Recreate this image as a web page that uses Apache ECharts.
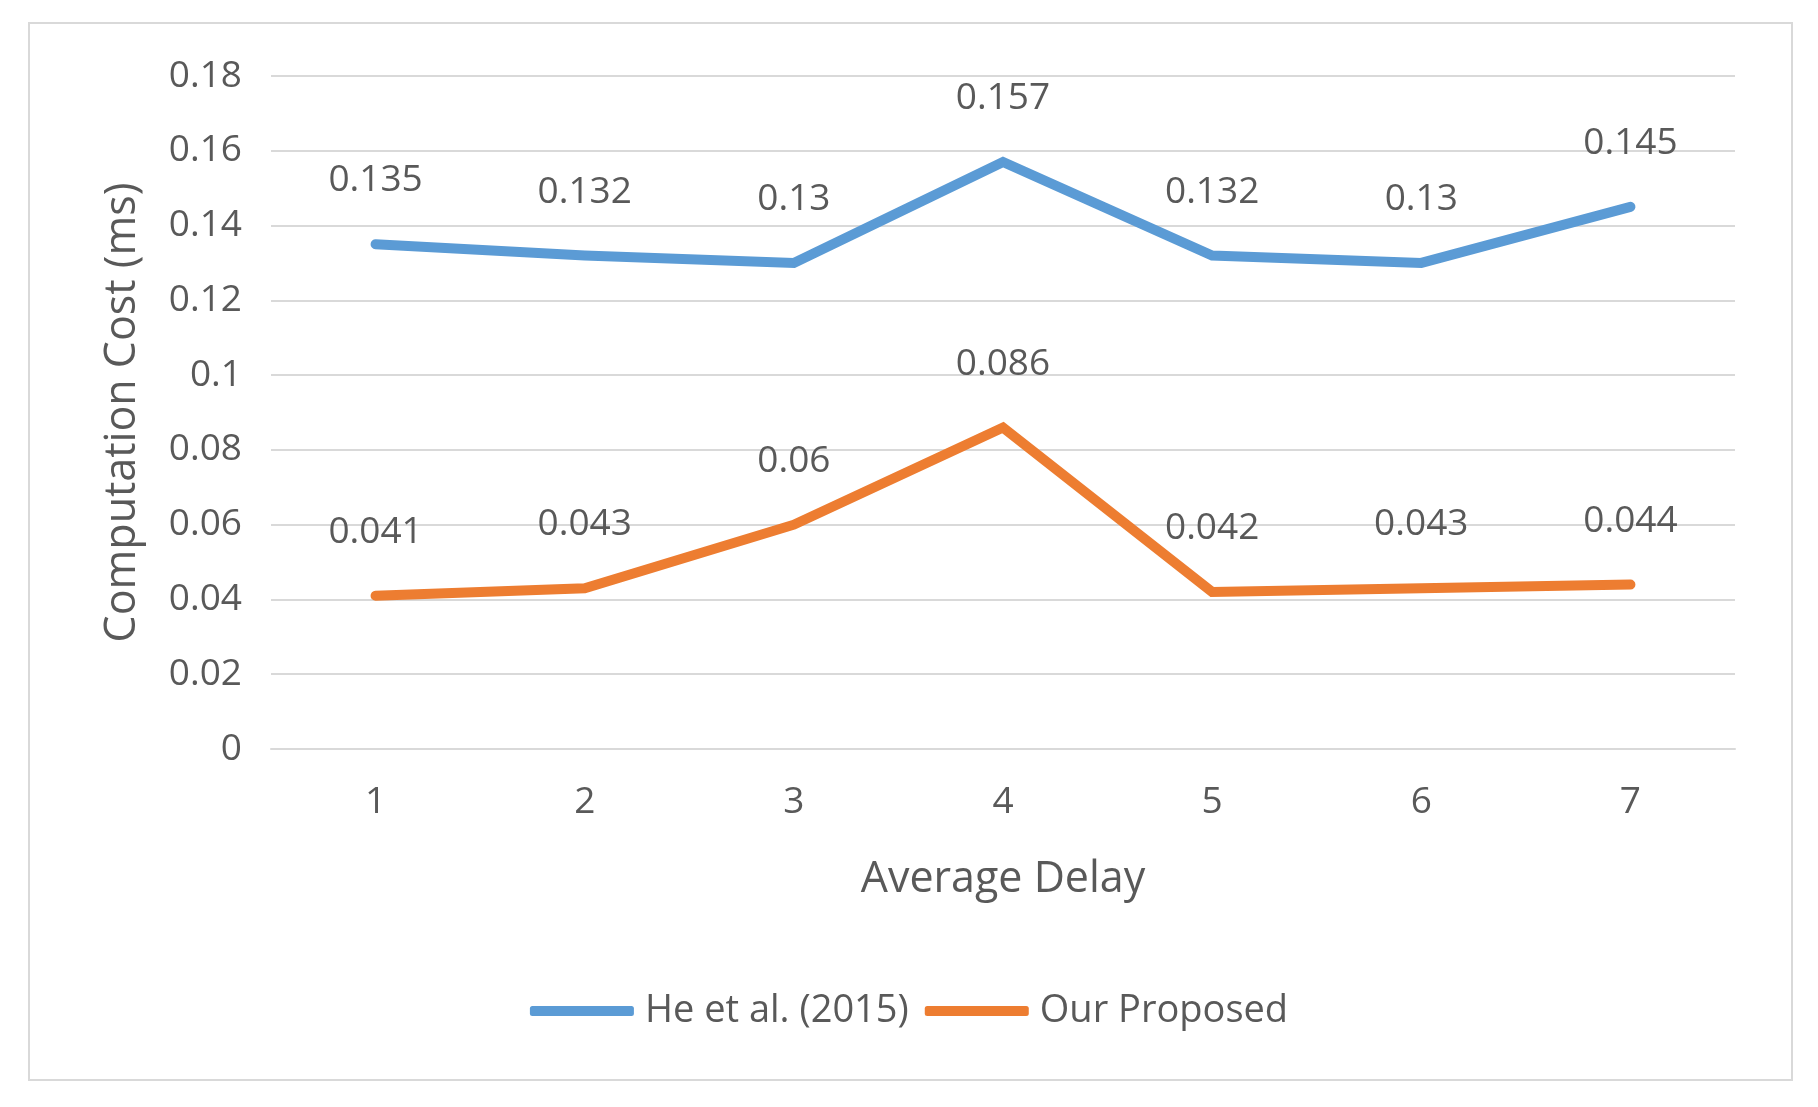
<!DOCTYPE html>
<html>
<head>
<meta charset="utf-8">
<script src="https://cdn.jsdelivr.net/npm/echarts@6/dist/echarts.min.js"></script>
<style>
html,body{margin:0;padding:0;background:#fff;}
#chart{width:1818px;height:1107px;}
</style>
</head>
<body>
<div id="chart"></div>
<script>
const categories = ['1','2','3','4','5','6','7'];
const heEtAl = [0.135, 0.132, 0.13, 0.157, 0.132, 0.13, 0.145];
const ourProposed = [0.041, 0.043, 0.06, 0.086, 0.042, 0.043, 0.044];
const seriesNames = ['He et al. (2015)', 'Our Proposed'];

const FONT = '"Open Sans", "Noto Sans", sans-serif';
const TXT = '#595959';
const chart = echarts.init(document.getElementById('chart'));

function lineSeries(name, data, color) {
  return {
    name: name,
    type: 'line',
    data: data,
    symbol: 'circle',
    symbolSize: 2,
    showSymbol: true,
    itemStyle: { color: color },
    lineStyle: { color: color, width: 10, cap: 'round', join: 'miter' },
    label: {
      show: true,
      position: 'top',
      distance: 44,
      color: TXT,
      fontFamily: FONT,
      fontSize: 37
    },
    emphasis: { disabled: true },
    animation: false
  };
}

chart.setOption({
  backgroundColor: '#ffffff',
  animation: false,
  graphic: [{
    type: 'rect',
    shape: { x: 29, y: 23, width: 1763, height: 1057 },
    style: { fill: 'none', stroke: '#D9D9D9', lineWidth: 2 },
    silent: true
  }],
  grid: { left: 271, right: 83, top: 76, bottom: 358 },
  legend: {
    data: seriesNames,
    bottom: 72,
    left: 'center',
    icon: 'roundRect',
    itemWidth: 104,
    itemHeight: 10,
    itemGap: 16,
    textStyle: { color: TXT, fontFamily: FONT, fontSize: 38, padding: [0, 0, 0, 6] }
  },
  xAxis: {
    type: 'category',
    data: categories,
    boundaryGap: true,
    name: 'Average Delay',
    nameLocation: 'middle',
    nameGap: 109,
    nameTextStyle: { color: TXT, fontFamily: FONT, fontSize: 43 },
    axisLine: { lineStyle: { color: '#D9D9D9', width: 2 } },
    axisTick: { show: false },
    axisLabel: { color: TXT, fontFamily: FONT, fontSize: 37, margin: 35 }
  },
  yAxis: {
    type: 'value',
    min: 0,
    max: 0.18,
    interval: 0.02,
    name: 'Computation Cost (ms)',
    nameLocation: 'middle',
    nameGap: 127,
    nameTextStyle: { color: TXT, fontFamily: FONT, fontSize: 43 },
    axisLine: { show: false },
    axisTick: { show: false },
    splitLine: { lineStyle: { color: '#D9D9D9', width: 2 } },
    axisLabel: { color: TXT, fontFamily: FONT, fontSize: 37, margin: 29 }
  },
  series: [
    lineSeries(seriesNames[0], heEtAl, '#5B9BD5'),
    lineSeries(seriesNames[1], ourProposed, '#ED7D31')
  ]
});
</script>
</body>
</html>
